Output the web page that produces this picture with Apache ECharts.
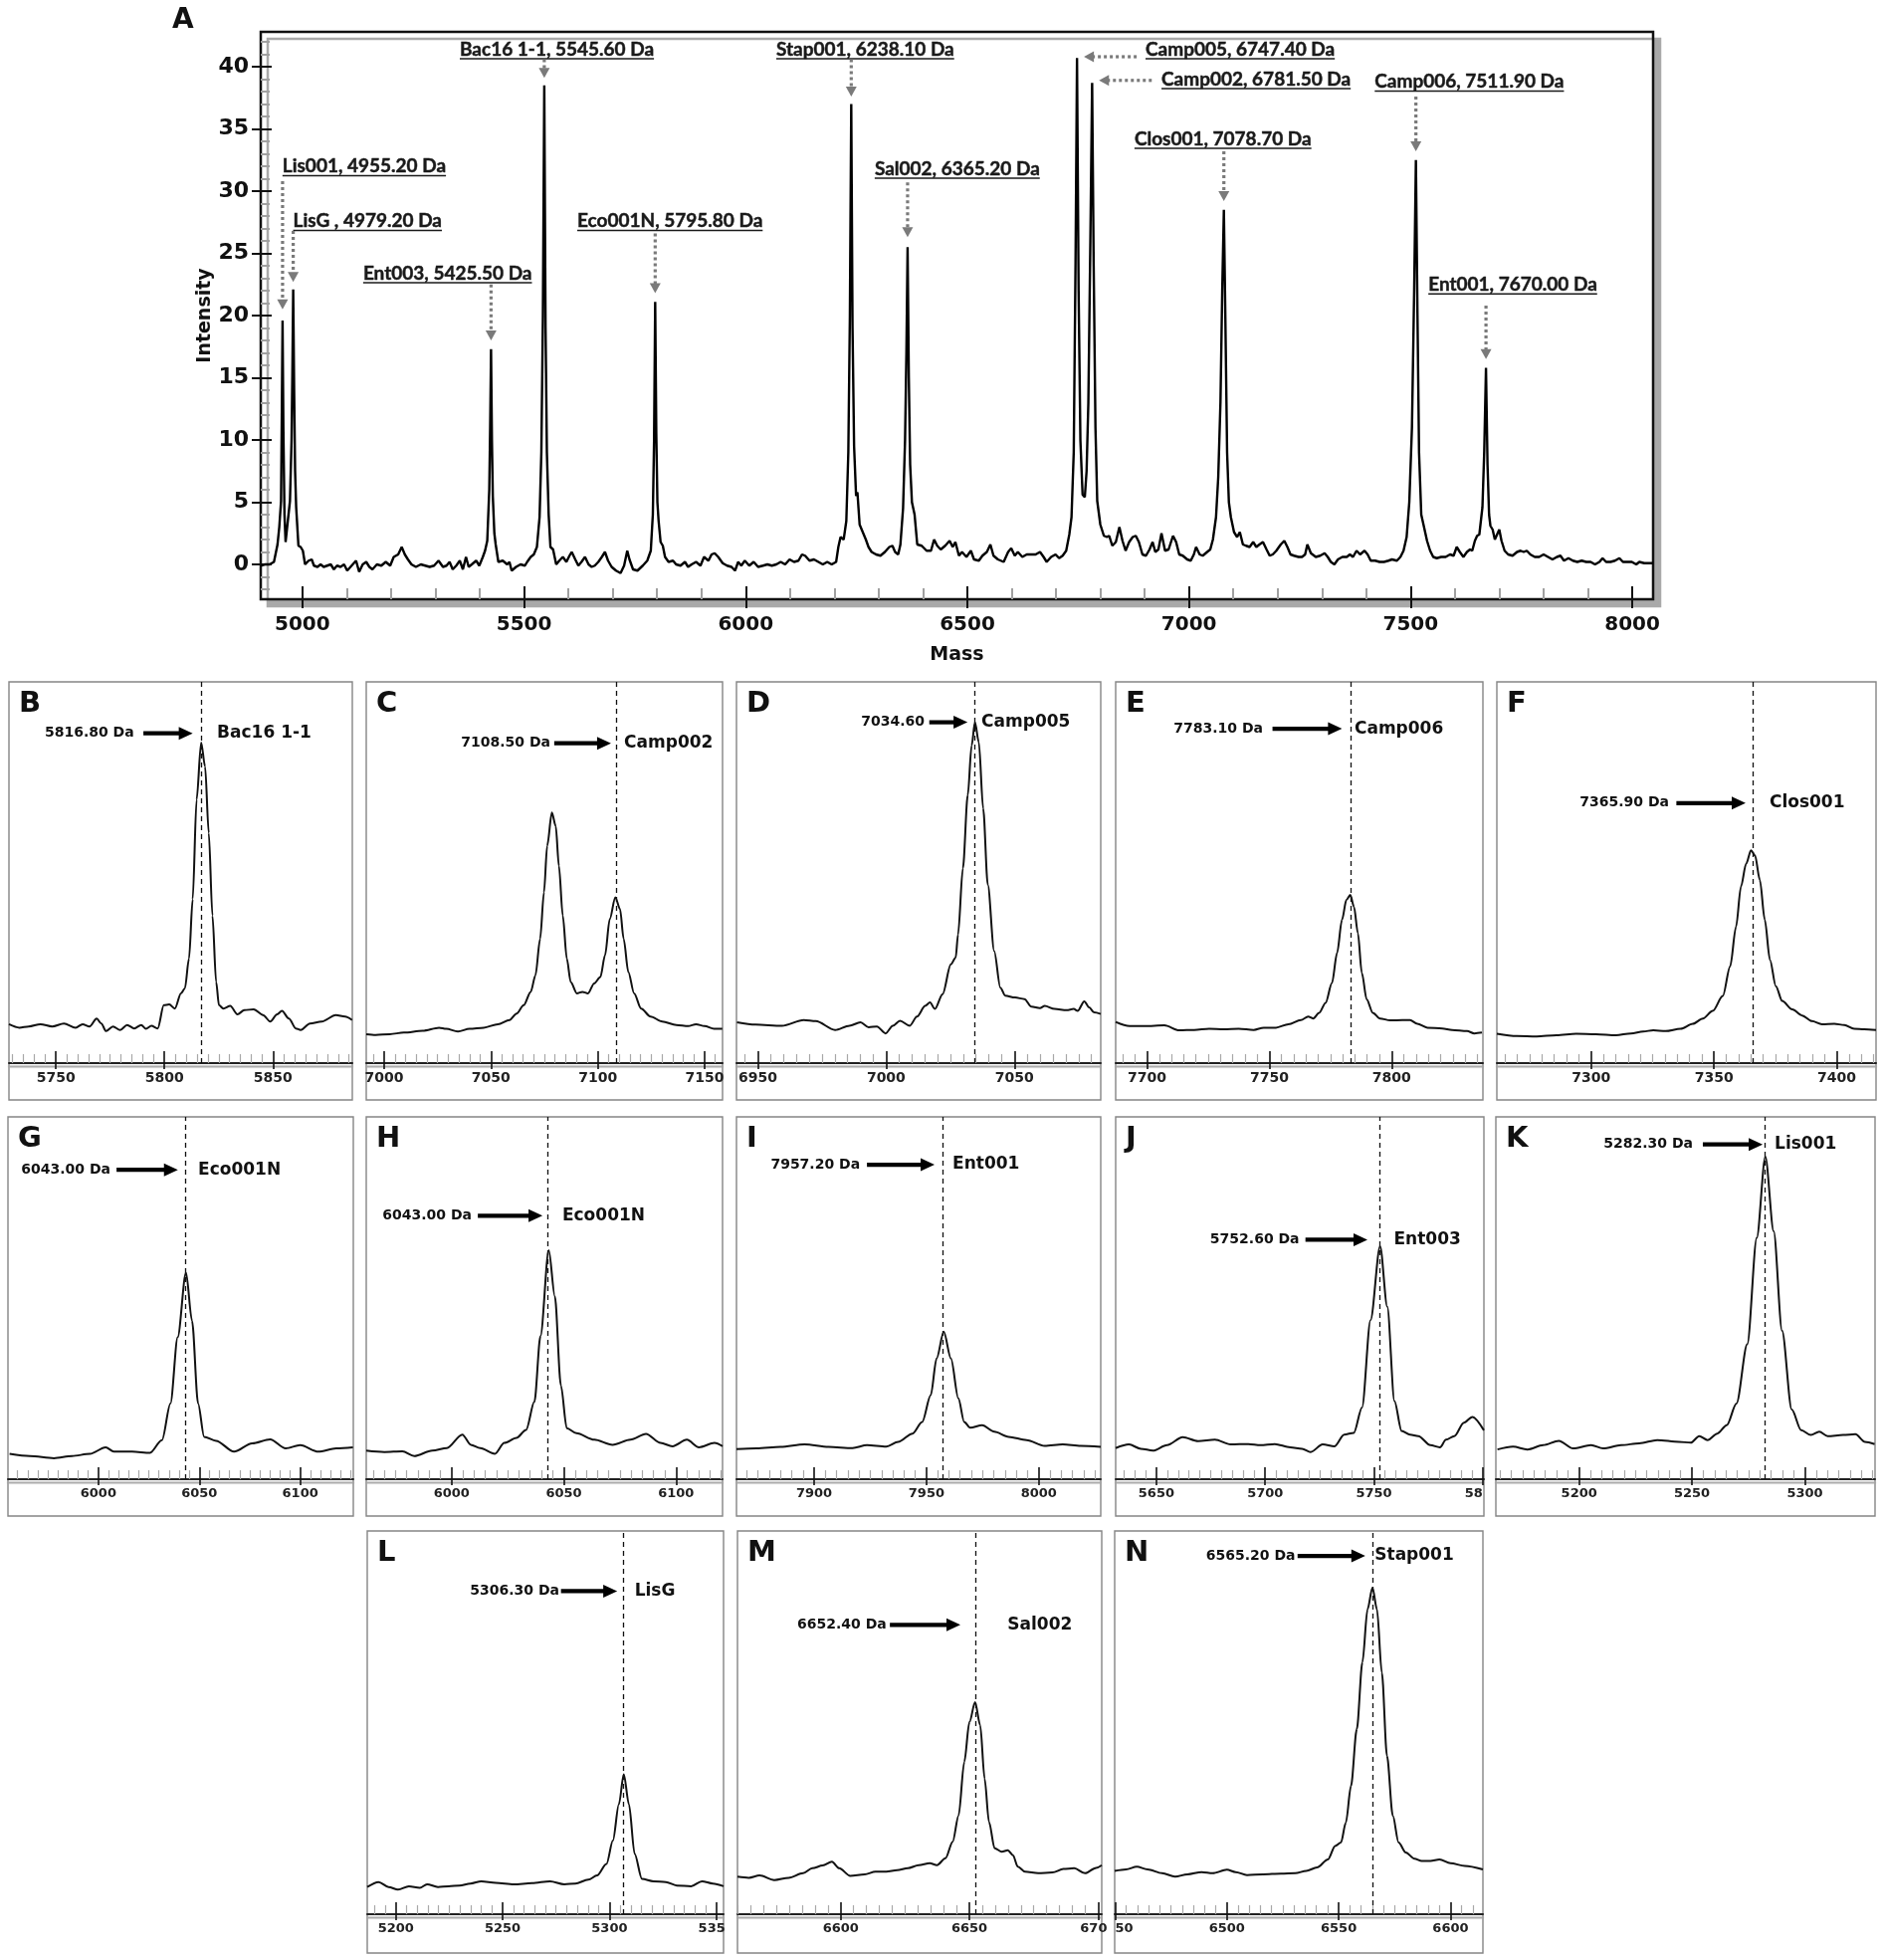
<!DOCTYPE html>
<html><head><meta charset="utf-8">
<script src="https://cdn.jsdelivr.net/npm/echarts@6/dist/echarts.min.js"></script>
<style>html,body{margin:0;padding:0;background:#fff}#c{width:1892px;height:1969px}</style>
</head><body><div id="c"></div><script>
// ---------------- DATA ----------------
// Panel A: MALDI-TOF spectrum (mass in Da, intensity)
const spectrumA = [[4905.7,-0.1],[4915.7,0.0],[4925.8,0.0],[4935.8,0.2],[4943.8,1.6],[4947.8,3.0],[4951.8,5.1],[4953.5,12.0],[4955.2,19.6],[4957.0,11.0],[4959.5,4.0],[4962.0,1.8],[4965.5,1.8],[4971.9,5.1],[4975.5,10.0],[4977.2,15.0],[4979.2,22.1],[4981.3,14.0],[4983.5,7.5],[4985.9,4.6],[4991,1.5],[4996,1.4],[5001,1.1],[5006,0.0],[5014,0.3],[5021,0.4],[5026,-0.1],[5034,-0.2],[5041,0.0],[5048,-0.2],[5056,-0.1],[5064,0.0],[5071,-0.4],[5078,-0.1],[5086,-0.2],[5094,0.0],[5101,-0.5],[5111,-0.1],[5121,0.3],[5128,-0.6],[5136,0.0],[5144,0.2],[5151,-0.2],[5158,-0.4],[5168,0.0],[5178,-0.1],[5188,0.2],[5198,-0.1],[5206,0.6],[5216,0.8],[5224,1.4],[5231,0.8],[5238,0.4],[5246,0.0],[5256,-0.2],[5267,0.0],[5277,-0.1],[5287,-0.2],[5297,-0.1],[5307,0.3],[5317,-0.2],[5325,-0.1],[5332,0.2],[5339,-0.4],[5347,-0.1],[5355,0.3],[5362,-0.4],[5369,0.6],[5375,-0.2],[5382,0.0],[5392,0.3],[5399,-0.1],[5407,0.6],[5412,1.1],[5417,1.9],[5421.5,6.0],[5423.5,11.0],[5425.5,17.3],[5427.5,10.0],[5429.5,5.5],[5433,2.5],[5436,1.6],[5442,0.2],[5452,0.3],[5462,0.0],[5467,0.2],[5472,-0.5],[5482,-0.2],[5492,0.0],[5502,-0.1],[5507,0.2],[5515,0.6],[5522,0.8],[5529,1.4],[5535,3.8],[5539,9.0],[5542.5,20.0],[5545.6,38.5],[5548.5,19.0],[5551.5,9.0],[5555.5,4.0],[5559.5,1.4],[5565.5,1.2],[5572.5,0.0],[5579.5,0.3],[5587.5,0.6],[5595.5,0.2],[5602.5,0.7],[5607.5,1.0],[5615.5,0.4],[5622.5,-0.1],[5629.5,0.2],[5637.5,0.6],[5645.5,0.0],[5652.5,-0.2],[5659.5,-0.1],[5667.5,0.2],[5675.5,0.6],[5682.5,1.0],[5689.5,0.3],[5697.5,-0.2],[5707.5,-0.5],[5717.7,-0.7],[5725.7,-0.1],[5732.8,1.1],[5737.8,0.4],[5745.8,-0.4],[5755.8,-0.5],[5767.8,-0.1],[5777.9,0.3],[5785.9,1.1],[5790.5,4.0],[5793.3,10.0],[5795.8,21.1],[5798.3,10.5],[5800.8,5.0],[5803.5,3.5],[5808,1.8],[5813,1.5],[5818,0.6],[5826,0.2],[5836,0.3],[5843,0.0],[5853,-0.1],[5863,0.2],[5870,-0.2],[5878,0.0],[5888,0.2],[5898,-0.1],[5906,0.6],[5916,0.3],[5923,0.8],[5930,0.9],[5938,0.6],[5948,0.1],[5958,-0.1],[5968,-0.2],[5976,-0.5],[5983,0.2],[5990,-0.1],[5998,0.3],[6008,-0.1],[6018,0.2],[6028,-0.2],[6039,-0.1],[6049,0.0],[6059,-0.1],[6069,0.0],[6079,0.2],[6089,0.0],[6099,0.4],[6109,0.2],[6119,0.3],[6127,0.8],[6134,0.7],[6144,0.3],[6154,0.4],[6164,0.2],[6174,0.0],[6184,0.2],[6194,0.0],[6204,0.2],[6209,1.4],[6214,2.2],[6221,2.0],[6227,3.5],[6231.5,9.0],[6235,20.0],[6238.1,37.0],[6241,19.0],[6244.5,9.5],[6249,5.5],[6252,5.8],[6257,3.2],[6264,2.6],[6271,2.0],[6277,1.4],[6284,1.0],[6294,0.8],[6304,0.7],[6314,1.0],[6324,1.4],[6331,1.5],[6337,1.0],[6344,0.8],[6349,1.6],[6355,4.5],[6359.5,10.0],[6362.5,17.0],[6365.2,25.5],[6368,15.0],[6371,8.0],[6375,5.0],[6381,4.0],[6387,1.6],[6397,1.5],[6408,1.1],[6418,1.1],[6425,2.0],[6432,1.5],[6440,1.2],[6450,1.5],[6460,1.9],[6467,1.4],[6473,1.8],[6481,0.7],[6488,1.0],[6498,0.6],[6508,1.1],[6515,0.4],[6526,0.3],[6534,0.7],[6544,1.0],[6552,1.6],[6559,0.7],[6569,0.4],[6582,0.2],[6592,1.0],[6599,1.3],[6607,0.7],[6614,1.0],[6624,0.6],[6634,0.8],[6644,0.8],[6654,0.8],[6664,1.0],[6672,0.6],[6679,0.2],[6689,0.6],[6699,0.8],[6707,0.5],[6715,0.7],[6723,1.1],[6730,2.4],[6735,3.8],[6740,9.0],[6744,24.0],[6747.4,40.7],[6751,22.0],[6755,10.0],[6760,5.6],[6765,5.4],[6769,7.5],[6773,13.0],[6777.5,26.0],[6781.5,38.7],[6785,24.0],[6789,11.0],[6793,5.1],[6800,3.2],[6808,2.3],[6815,2.2],[6820,2.3],[6827,1.5],[6835,1.8],[6843,3.0],[6850,1.9],[6857,1.1],[6865,1.8],[6873,2.2],[6880,2.3],[6887,1.8],[6895,0.8],[6903,0.7],[6911,1.2],[6918,1.8],[6924,1.0],[6931,1.2],[6938,2.5],[6946,1.1],[6954,1.2],[6964,2.3],[6971,1.8],[6978,0.8],[6986,0.7],[6996,0.4],[7004,0.3],[7011,0.8],[7016,1.4],[7024,0.8],[7031,0.7],[7041,1.0],[7048,1.2],[7054,2.0],[7061,3.8],[7066,7.0],[7071,13.0],[7075,22.0],[7078.7,28.5],[7082,20.0],[7086,9.0],[7090,5.0],[7094.5,3.8],[7101.6,2.6],[7108.6,2.2],[7114.7,2.6],[7121.7,1.6],[7128.7,1.5],[7136.8,1.4],[7144.8,1.8],[7151.9,1.4],[7158.9,1.6],[7166.9,1.8],[7175,1.2],[7182,0.7],[7189,0.8],[7197,1.1],[7207,1.6],[7215,1.9],[7222,1.4],[7229,0.8],[7237,0.7],[7247,0.6],[7255,0.6],[7262,0.8],[7267,1.6],[7275,0.9],[7286,0.6],[7296,0.7],[7306,0.9],[7313,0.6],[7320,0.2],[7328,0.0],[7336,0.4],[7346,0.6],[7356,0.6],[7363,0.8],[7370,0.6],[7378,1.1],[7386,0.8],[7396,1.1],[7403,0.8],[7410,0.3],[7420,0.3],[7430,0.2],[7440,0.2],[7450,0.3],[7458,0.4],[7469,0.3],[7477,0.6],[7484,1.1],[7491,2.2],[7497,5.0],[7503,11.0],[7508,22.0],[7511.9,32.5],[7515.5,20.0],[7519,9.0],[7524,4.0],[7529,3.2],[7537,1.9],[7544,1.1],[7551,0.6],[7559,0.5],[7569,0.6],[7579,0.6],[7589,0.8],[7597,0.7],[7604,1.4],[7611,1.0],[7619,0.6],[7627,1.0],[7634,1.2],[7639,1.1],[7645,1.9],[7650,2.3],[7655,2.4],[7662,4.6],[7666,9.0],[7670,15.8],[7673.5,8.0],[7677,4.0],[7680,3.1],[7685,2.8],[7690,2.0],[7695,2.4],[7700,2.8],[7705,1.9],[7712,1.1],[7720,0.8],[7730,0.7],[7740,1.0],[7748,1.1],[7755,1.0],[7762,1.1],[7770,0.8],[7780,0.6],[7790,0.6],[7800,0.8],[7810,0.6],[7820,0.4],[7830,0.6],[7838,0.7],[7846,0.3],[7856,0.5],[7866,0.3],[7876,0.2],[7886,0.3],[7896,0.2],[7906,0.2],[7916,0.0],[7926,0.2],[7933,0.5],[7941,0.2],[7951,0.2],[7961,0.3],[7971,0.5],[7979,0.2],[7989,0.2],[7999,0.2],[8009,0.0],[8016,0.2],[8027,0.1],[8037,0.1],[8047,0.1]];

const peakLabelsA = ['Lis001, 4955.20 Da','LisG , 4979.20 Da','Ent003, 5425.50 Da','Bac16 1-1, 5545.60 Da','Eco001N, 5795.80 Da','Stap001, 6238.10 Da','Sal002, 6365.20 Da','Camp005, 6747.40 Da','Camp002, 6781.50 Da','Clos001, 7078.70 Da','Camp006, 7511.90 Da','Ent001, 7670.00 Da'];
const massTicksA = [5000,5500,6000,6500,7000,7500,8000];
const intensityTicksA = [0,5,10,15,20,25,30,35,40];

// Panels B–N: zoomed spectra (mass in Da, relative intensity)
const panelLetters = ['B','C','D','E','F','G','H','I','J','K','L','M','N'];
const panelMassLabels = ['5816.80 Da','7108.50 Da','7034.60','7783.10 Da','7365.90 Da','6043.00 Da','6043.00 Da','7957.20 Da','5752.60 Da','5282.30 Da','5306.30 Da','6652.40 Da','6565.20 Da'];
const panelNames = ['Bac16 1-1','Camp002','Camp005','Camp006','Clos001','Eco001N','Eco001N','Ent001','Ent003','Lis001','LisG','Sal002','Stap001'];
const panelMarkers = [5816.8,7108.5,7034.6,7783.1,7365.9,6043.0,6043.0,7957.2,5752.6,5282.3,5306.3,6652.4,6565.2];
const panelRanges = [[5728.4,5886.5],[6991.6,7158.4],[6941.7,7083.6],[7687.2,7837.3],[7261.6,7416],[5955.2,6126.3],[5962,6120.7],[7865.4,8027.6],[5631.3,5800.5],[5163.1,5331.1],[5186.6,5353.4],[6559.9,6701.4],[6449.8,6614.5]];
const panelTicks = [[5750,5800,5850],[7000,7050,7100,7150],[6950,7000,7050],[7700,7750,7800],[7300,7350,7400],[6000,6050,6100],[6000,6050,6100],[7900,7950,8000],[5650,5700,5750,5800],[5200,5250,5300],[5200,5250,5300,5350],[6600,6650,6700],[6450,6500,6550,6600]];

const traceB = [[5728.4,10.2],[5733.2,9.3],[5737.5,9.6],[5742.9,10.2],[5748.3,9.6],[5753.7,10.4],[5759.1,9.3],[5762.3,10.2],[5765.5,9.6],[5768.8,11.7],[5770.9,10.4],[5773.1,8.4],[5776.3,9.6],[5779.6,8.7],[5782.8,10.0],[5786.1,9.1],[5789.3,10.0],[5791.5,9.0],[5794.0,9.8],[5796.9,9.1],[5799.7,15.2],[5802.2,15.4],[5804.8,14.3],[5807.6,18.3],[5809.4,19.6],[5811.3,27.4],[5813.0,43.0],[5814.8,69.1],[5816.9,84.1],[5818.7,77.8],[5820.4,60.4],[5822.1,38.7],[5823.8,21.3],[5825.1,15.2],[5827.1,14.3],[5830.3,15.0],[5833.6,12.8],[5836.8,13.9],[5841.1,14.1],[5845.4,12.6],[5848.7,10.9],[5851.9,12.8],[5854.1,13.7],[5857.3,11.7],[5860.5,9.1],[5862.7,8.7],[5867.0,10.4],[5872.4,10.9],[5878.9,12.6],[5883.2,12.2],[5886.4,11.3]];
const traceC = [[6991.6,7.6],[6996.0,7.4],[7002.6,7.6],[7009.2,8.0],[7018.0,8.5],[7025.7,9.3],[7029.0,9.0],[7034.5,8.3],[7040.0,9.0],[7046.6,9.3],[7053.2,10.2],[7058.7,11.3],[7062.0,13.0],[7065.3,15.2],[7068.6,18.7],[7070.8,23.0],[7073.0,32.6],[7074.8,44.8],[7076.3,57.0],[7078.5,65.7],[7080.3,62.2],[7081.8,51.7],[7083.6,38.7],[7085.5,27.4],[7087.3,21.3],[7090.2,18.3],[7092.8,18.7],[7095.4,18.3],[7098.3,20.9],[7101.2,22.6],[7103.4,28.3],[7105.6,37.8],[7108.2,43.5],[7110.4,40.4],[7112.1,32.6],[7114.3,23.9],[7117.0,18.3],[7120.3,14.3],[7124.7,12.2],[7130.2,10.9],[7136.8,10.0],[7142.3,9.7],[7146.0,10.2],[7150.0,9.7],[7154.4,9.0],[7158.3,9.0]];
const traceD = [[6941.9,10.7],[6949.1,10.1],[6959.4,9.8],[6967.9,11.3],[6972.6,11.0],[6980.1,8.7],[6985.7,9.8],[6990.0,10.7],[6993.2,9.4],[6996.4,9.6],[6999.8,7.8],[7002.6,9.8],[7005.4,11.1],[7009.2,9.8],[7012.0,12.2],[7015.2,15.0],[7017.1,15.9],[7019.0,14.2],[7022.0,18.1],[7025.2,25.9],[7027.1,27.7],[7028.0,33.7],[7029.9,51.1],[7031.8,70.3],[7033.3,83.3],[7034.6,89.4],[7036.1,84.2],[7037.8,66.8],[7039.6,46.8],[7042.1,29.4],[7044.5,19.8],[7046.4,17.7],[7050.2,17.2],[7053.9,16.8],[7056.6,14.8],[7059.9,14.4],[7061.8,15.0],[7065.6,14.2],[7070.3,13.9],[7073.1,14.2],[7074.6,13.7],[7077.2,16.2],[7079.1,14.6],[7081.0,13.3],[7083.6,12.9]];
const traceE = [[7687.2,10.8],[7692.9,9.7],[7699.0,9.7],[7707.1,9.9],[7713.2,8.6],[7719.3,8.7],[7725.4,9.0],[7731.4,8.9],[7737.5,9.0],[7743.6,8.7],[7747.7,9.3],[7752.7,9.3],[7757.8,10.2],[7762.9,11.3],[7765.9,12.2],[7767.9,11.7],[7770.4,13.2],[7773.0,15.8],[7775.6,21.0],[7777.7,28.9],[7779.7,37.6],[7781.5,42.8],[7783.1,44.1],[7784.6,41.0],[7786.2,34.1],[7787.8,23.7],[7789.8,16.7],[7792.3,13.2],[7795.3,11.7],[7799.4,11.2],[7804.4,11.3],[7807.5,11.3],[7810.5,10.3],[7814.6,9.3],[7820.7,9.1],[7824.7,8.7],[7830.8,8.4],[7833.8,7.8],[7836.9,8.0]];
const traceF = [[7261.6,7.7],[7269.7,7.1],[7277.8,7.0],[7285.9,7.3],[7293.9,7.7],[7302.0,7.6],[7310.1,7.3],[7316.2,7.8],[7321.2,8.3],[7325.3,8.6],[7330.3,8.4],[7336.4,9.0],[7341.4,10.3],[7345.5,11.7],[7349.5,13.7],[7353.6,17.6],[7356.6,25.4],[7359.0,35.8],[7361.0,46.3],[7363.1,52.3],[7365.1,55.8],[7366.7,54.5],[7368.7,48.0],[7370.7,37.6],[7372.8,27.1],[7375.2,20.2],[7377.8,16.3],[7381.9,14.1],[7385.9,12.5],[7389.9,11.0],[7394.0,10.2],[7399.0,10.3],[7403.1,10.0],[7407.1,9.0],[7411.2,8.9],[7416.0,8.7]];
const traceG = [[5956.0,7.0],[5966.1,6.4],[5978.0,5.8],[5986.9,6.4],[5995.8,7.0],[6003.6,8.8],[6007.7,7.6],[6016.7,7.6],[6025.6,7.3],[6031.5,10.8],[6035.7,20.9],[6039.3,39.2],[6043.4,57.0],[6046.4,43.7],[6049.4,20.9],[6052.4,11.7],[6058.3,10.6],[6067.2,7.6],[6076.2,9.9],[6085.1,11.0],[6092.8,8.5],[6100.0,9.4],[6108.9,7.6],[6117.8,8.5],[6126.1,8.8]];
const traceH = [[5962.0,7.9],[5970.1,7.5],[5978.1,7.7],[5983.4,6.4],[5991.4,7.9],[5997.9,8.6],[6004.8,12.3],[6008.6,9.5],[6012.8,8.6],[6019.3,7.0],[6023.5,10.0],[6028.9,11.4],[6033.2,13.6],[6036.9,21.4],[6039.6,39.5],[6043.3,63.2],[6046.0,50.5],[6048.7,25.9],[6051.3,14.1],[6055.6,12.7],[6063.6,10.9],[6071.7,9.5],[6079.7,10.9],[6086.6,12.5],[6093.1,10.0],[6098.4,9.1],[6104.8,10.9],[6110.2,8.8],[6117.1,10.0],[6120.7,9.1]];
const traceI = [[7865.4,8.3],[7874.3,8.5],[7885.0,8.9],[7895.7,9.6],[7906.4,8.9],[7917.1,8.6],[7923.5,9.4],[7932.1,9.0],[7937.4,10.3],[7943.8,12.6],[7948.1,15.8],[7951.9,23.2],[7954.5,33.3],[7957.7,40.7],[7960.9,33.3],[7964.2,22.3],[7966.8,15.8],[7969.5,14.2],[7974.8,14.9],[7980.2,13.1],[7986.6,11.7],[7994.6,10.8],[8002.6,9.2],[8010.7,9.6],[8018.7,9.2],[8027.6,8.9]];
const traceJ = [[5631.3,8.6],[5637.4,9.6],[5642.9,8.4],[5648.4,7.9],[5654.9,9.4],[5662.1,11.6],[5669.2,10.5],[5676.9,10.9],[5684.1,9.6],[5692.3,9.7],[5697.8,9.4],[5704.4,9.7],[5711.5,8.8],[5717.0,8.4],[5720.9,7.5],[5726.4,9.6],[5731.9,9.1],[5736.3,12.3],[5740.7,12.8],[5744.5,19.8],[5748.4,43.9],[5752.8,64.3],[5756.1,47.6],[5759.4,21.6],[5762.7,13.3],[5766.6,12.3],[5770.4,11.9],[5775.9,9.4],[5780.3,8.8],[5783.1,10.9],[5786.9,11.9],[5791.3,15.6],[5795.2,17.2],[5800.5,13.5]];
const traceK = [[5163.8,8.2],[5170.7,9.0],[5177.1,8.2],[5184.0,9.4],[5191.0,10.6],[5197.3,8.5],[5205.3,9.4],[5210.6,8.5],[5218.6,9.4],[5226.6,9.9],[5234.6,10.8],[5244.2,10.3],[5249.5,10.1],[5253.2,11.9],[5256.9,10.8],[5261.2,12.6],[5265.4,14.9],[5269.7,20.9],[5274.5,37.3],[5278.7,66.6],[5282.5,89.0],[5286.2,68.4],[5289.9,41.0],[5294.2,19.2],[5298.4,13.5],[5302.7,12.2],[5306.4,13.1],[5310.1,11.9],[5317.0,12.2],[5322.4,12.4],[5326.6,10.3],[5330.9,9.7]];
const traceL = [[5186.6,7.1],[5191.9,8.4],[5196.6,7.1],[5201.0,6.4],[5206.1,7.3],[5211.2,6.9],[5214.6,7.8],[5219.7,7.1],[5224.7,7.3],[5229.8,7.5],[5234.9,8.0],[5240.0,8.6],[5246.8,8.2],[5255.2,7.8],[5263.7,8.1],[5272.2,8.6],[5278.9,7.8],[5284.0,8.0],[5290.1,9.0],[5294.2,10.1],[5298.6,13.1],[5301.6,19.2],[5304.4,28.7],[5306.7,36.5],[5309.1,28.7],[5311.8,15.7],[5315.2,9.2],[5320.6,8.6],[5326.4,8.4],[5331.5,7.5],[5338.2,7.3],[5343.3,8.6],[5348.4,8.0],[5353.4,7.3]];
const traceM = [[6559.9,9.8],[6564.3,9.5],[6568.5,10.1],[6574.2,8.9],[6579.8,9.5],[6585.4,10.7],[6589.0,12.0],[6593.0,12.7],[6596.6,13.7],[6599.4,12.0],[6603.7,10.0],[6609.3,10.4],[6613.5,11.1],[6617.7,11.1],[6621.9,11.5],[6626.1,12.0],[6630.3,12.8],[6634.6,13.3],[6637.4,12.8],[6640.7,14.6],[6643.5,18.9],[6645.8,25.8],[6648.0,39.7],[6650.0,50.1],[6652.2,55.3],[6654.2,49.3],[6655.9,35.4],[6657.6,24.1],[6659.8,17.2],[6662.6,16.3],[6664.9,16.7],[6666.9,15.4],[6668.8,12.4],[6671.6,11.1],[6676.7,10.7],[6682.3,10.9],[6686.5,11.8],[6690.7,12.0],[6694.9,10.7],[6699.2,12.1],[6701.4,12.8]];
const traceN = [[6449.8,11.3],[6454.9,11.7],[6459.7,12.4],[6464.5,11.7],[6471.0,10.7],[6476.8,9.8],[6482.3,10.4],[6488.7,11.0],[6493.6,10.7],[6500.0,11.6],[6503.9,11.0],[6509.0,10.2],[6516.1,10.4],[6524.2,10.6],[6530.6,10.7],[6535.5,11.3],[6540.3,12.2],[6545.2,14.3],[6548.4,17.8],[6551.0,18.7],[6553.2,23.9],[6555.5,33.5],[6558.1,48.3],[6560.6,65.7],[6562.9,79.6],[6565.1,85.2],[6567.1,79.6],[6569.3,63.0],[6571.6,41.3],[6574.2,25.7],[6576.8,18.7],[6580.0,16.1],[6583.9,14.5],[6587.1,13.9],[6591.0,13.9],[6595.1,14.3],[6600.0,13.3],[6606.4,12.6],[6614.5,11.7]];
const panelTraces = [traceB,traceC,traceD,traceE,traceF,traceG,traceH,traceI,traceJ,traceK,traceL,traceM,traceN];

// ---------------- LAYOUT (positions / sizes) ----------------
// Panel A label placement in data coords: [textLeft, textY, arrowX1, arrowY1, arrowX2, arrowY2]
const annLayoutA = [[4955,32.0,4955.2,30.8,4955.2,20.5],[4979,27.6,4979.2,26.8,4979.2,22.7],[5137,23.4,5425.5,22.5,5425.5,18.0],[5355,41.4,5545.6,40.6,5545.6,39.1],[5620,27.6,5795.8,26.6,5795.8,21.8],[6069,41.4,6238.1,40.6,6238.1,37.6],[6291,31.8,6365.2,30.7,6365.2,26.3],[6902,41.4,6882,40.8,6763,40.8],[6938,39.0,6916,38.9,6797,38.9],[6877,34.2,7078.7,33.2,7078.7,29.2],[7419,38.8,7511.9,37.6,7511.9,33.2],[7540,22.5,7670,20.8,7670,16.5]];
// Panels: [arrowX1, arrowX2, y, massTextRight, nameLeft] (data coords)
const annLayoutP = [[5790.3,5813.0,86.5,5786.0,5824.2],[7079.6,7106.2,83.9,7077.8,7112.3],[7016.8,7031.7,89.4,7015.0,7037.1],[7751.3,7779.7,87.7,7747.4,7784.8],[7334.7,7362.9,68.2,7331.7,7372.6],[6009.0,6039.4,85.4,6006.0,6049.4],[6011.7,6040.5,72.7,6009.0,6049.3],[7923.5,7953.6,86.8,7920.4,7961.6],[5718.5,5747.0,66.1,5715.7,5759.1],[5254.8,5281.3,92.4,5250.4,5286.6],[5277.3,5303.6,84.3,5276.5,5311.8],[6619.1,6646.5,75.5,6617.8,6664.8],[6531.6,6561.9,93.5,6530.6,6566.1]];
const panelBoxes = [[9,685,345,420],[368,685,358,420],[740,685,366,420],[1121,685,369,420],[1504,685,381,420],[8,1122,347,401],[368,1122,358,401],[740,1122,366,401],[1121,1122,370,401],[1503,1122,381,401],[369,1538,358,424],[741,1538,366,424],[1120,1538,370,424]];
const panelRow = [0,0,0,0,0,1,1,1,1,1,2,2,2];
const rowAxisOffset = [383, 364, 385];   // px from panel top to the mass axis line
const labelClip = {8:{5800:'58{h|00}'},10:{5350:'535{h|0}'},11:{6700:'670{h|0}'},12:{6450:'{h|64}50'}};

const WIDE = "'DejaVu Sans', Verdana, sans-serif";
const HUM = "Lato, 'Open Sans', sans-serif";

const measureCtx = document.createElement('canvas').getContext('2d');
function textWidth(t, font){ measureCtx.font = font; return measureCtx.measureText(t).width; }

const option = {animation:false, backgroundColor:'#fff', title:[], grid:[], xAxis:[], yAxis:[], series:[]};

// ---- Panel A ----
option.title.push({text:'A', left:168, top:2, textStyle:{fontFamily:WIDE, fontWeight:'bold', fontSize:28, color:'#111'}});
option.grid.push({left:262, top:32, width:1399, height:570, show:true, backgroundColor:'#fff', borderColor:'#111', borderWidth:2.5, shadowColor:'#a9a9a9', shadowOffsetX:7, shadowOffsetY:7, shadowBlur:0});
const minorMassA = []; for (let v = 4000; v <= 8100; v += 100) if (v >= 4906 && v <= 8047 && v % 500) minorMassA.push(v);
const minorIntA = []; for (let v = -2; v <= 42; v++) if (v % 5) minorIntA.push(v);
const xBaseA = {type:'value', gridIndex:0, min:4906, max:8047, position:'bottom', splitLine:{show:false}, axisLine:{show:false, onZero:false}};
option.xAxis.push(Object.assign({}, xBaseA, {
  axisTick:{show:true, customValues:massTicksA, inside:false, length:9, lineStyle:{color:'#111', width:2}},
  axisLabel:{customValues:massTicksA, margin:16, formatter:(v)=>String(v), fontFamily:WIDE, fontWeight:'bold', fontSize:20, color:'#111'},
  name:'Mass', nameLocation:'middle', nameGap:47, nameMoveOverlap:false, nameTextStyle:{fontFamily:WIDE, fontWeight:'bold', fontSize:19, color:'#111'}}));
option.xAxis.push(Object.assign({}, xBaseA, {axisTick:{show:true, customValues:massTicksA, inside:true, length:13, lineStyle:{color:'#111', width:2}}, axisLabel:{show:false}}));
option.xAxis.push(Object.assign({}, xBaseA, {axisTick:{show:true, customValues:minorMassA, inside:true, length:11, lineStyle:{color:'#a0a0a0', width:2}}, axisLabel:{show:false}}));
const yBaseA = {type:'value', gridIndex:0, min:-2.8, max:42.8, position:'left', splitLine:{show:false}, axisLine:{show:false, onZero:false}};
option.yAxis.push(Object.assign({}, yBaseA, {
  axisTick:{show:true, customValues:intensityTicksA, inside:false, length:9, lineStyle:{color:'#111', width:2}},
  axisLabel:{customValues:intensityTicksA, margin:12, formatter:(v)=>String(v), fontFamily:WIDE, fontWeight:'bold', fontSize:22, color:'#111'},
  name:'Intensity', nameLocation:'middle', nameGap:46, nameMoveOverlap:false, nameRotate:90, nameTextStyle:{fontFamily:WIDE, fontWeight:'bold', fontSize:19, color:'#111'}}));
option.yAxis.push(Object.assign({}, yBaseA, {axisTick:{show:true, customValues:intensityTicksA, inside:true, length:11, lineStyle:{color:'#111', width:2}}, axisLabel:{show:false}}));
option.yAxis.push(Object.assign({}, yBaseA, {axisTick:{show:true, customValues:minorIntA, inside:true, length:9, lineStyle:{color:'#a0a0a0', width:2}}, axisLabel:{show:false}}));

option.series.push({type:'line', xAxisIndex:0, yAxisIndex:0, data:spectrumA, showSymbol:false, symbol:'none', smooth:false, lineStyle:{color:'#000', width:2.4}, z:3});

const fontA = `bold 19px ${HUM}`;
option.series.push({type:'custom', xAxisIndex:0, yAxisIndex:0, z:5, silent:true,
  data: annLayoutA.map((r,i)=>[r[0], r[1], i]),
  renderItem:(params, api)=>{
    const i = api.value(2); const r = annLayoutA[i]; const t = peakLabelsA[i];
    const p = api.coord([r[0], r[1]]); const w = textWidth(t, fontA);
    const a1 = api.coord([r[2], r[3]]), a2 = api.coord([r[4], r[5]]);
    const ch = [
      {type:'text', style:{text:t, x:p[0], y:p[1], font:fontA, fill:'#1a1a1a', stroke:'#1a1a1a', lineWidth:0.45, align:'left', verticalAlign:'middle', textAlign:'left', textVerticalAlign:'middle'}},
      {type:'line', shape:{x1:p[0], y1:p[1]+9.5, x2:p[0]+w, y2:p[1]+9.5}, style:{stroke:'#1a1a1a', lineWidth:1.7}}
    ];
    const col = '#7a7a7a';
    if (Math.abs(a1[0]-a2[0]) < 1) {
      const hx = a2[0], hy = a2[1];
      ch.push({type:'line', shape:{x1:a1[0], y1:a1[1], x2:hx, y2:hy-8}, style:{stroke:col, lineWidth:3.2, lineDash:[3,3]}});
      ch.push({type:'polygon', shape:{points:[[hx-5.5,hy-10],[hx+5.5,hy-10],[hx,hy]]}, style:{fill:col}});
    } else {
      const hx = a2[0], hy = a2[1];
      ch.push({type:'line', shape:{x1:a1[0], y1:a1[1], x2:hx+8, y2:hy}, style:{stroke:col, lineWidth:3.2, lineDash:[3,3]}});
      ch.push({type:'polygon', shape:{points:[[hx+10,hy-5.5],[hx+10,hy+5.5],[hx,hy]]}, style:{fill:col}});
    }
    return {type:'group', children:ch};
  }});

// ---- Panels B–N ----
const massFont = `bold 14px ${WIDE}`, nameFont = `bold 17px ${WIDE}`;
panelLetters.forEach((letter, k)=>{
  const box = panelBoxes[k]; const row = panelRow[k];
  const [xmin, xmax] = panelRanges[k];
  // frame grid (panel border)
  const gF = option.grid.length;
  option.grid.push({left:box[0], top:box[1], width:box[2], height:box[3], show:true, backgroundColor:'#fff', borderColor:'#858585', borderWidth:1.4});
  option.xAxis.push({type:'value', gridIndex:gF, min:0, max:1, show:false});
  option.yAxis.push({type:'value', gridIndex:gF, min:0, max:1, show:false});
  // data grid (down to the axis line)
  const g = option.grid.length;
  option.grid.push({left:box[0], top:box[1], width:box[2], height:rowAxisOffset[row], show:false});
  option.title.push({text:letter, left:box[0]+5, top:box[1]+3, textStyle:{fontFamily:WIDE, fontWeight:'bold', fontSize:29, color:'#111'}});
  const yIdx = option.yAxis.length;
  option.yAxis.push({type:'value', gridIndex:g, min:0, max:100, show:false, splitLine:{show:false}});
  const xIdx = option.xAxis.length;
  const minor = []; for (let v = Math.ceil(xmin/5)*5; v <= xmax; v += 5) if (v % 50) minor.push(v);
  const clip = labelClip[k] || {};
  const base = {type:'value', gridIndex:g, min:xmin, max:xmax, position:'bottom', splitLine:{show:false}};
  const lblFont = {fontFamily:WIDE, fontWeight:'bold', fontSize: row === 0 ? 14 : 13, color:'#222'};
  option.xAxis.push(Object.assign({}, base, {
    axisLine:{show:true, onZero:false, lineStyle:{color:'#222', width:2, shadowColor:'#a5a5a5', shadowOffsetY:3.5, shadowBlur:1}},
    axisTick:{show:true, customValues:panelTicks[k], inside:false, length:6, lineStyle:{color:'#111', width:1.6}},
    axisLabel:Object.assign({customValues:panelTicks[k], margin:8, formatter:(v)=>clip[v] || String(v), rich:{h:Object.assign({}, lblFont, {color:'rgba(0,0,0,0)'})}}, lblFont)}));
  option.xAxis.push(Object.assign({}, base, {axisLine:{show:false, onZero:false}, axisTick:{show:true, customValues:panelTicks[k], inside:true, length:12, lineStyle:{color:'#111', width:1.6}}, axisLabel:{show:false}}));
  option.xAxis.push(Object.assign({}, base, {axisLine:{show:false, onZero:false}, axisTick:{show:true, customValues:minor, inside:true, length:9, lineStyle:{color:'#a8a8a8', width:1.2}}, axisLabel:{show:false}}));

  option.series.push({type:'line', xAxisIndex:xIdx, yAxisIndex:yIdx, data:panelTraces[k], showSymbol:false, symbol:'none', smooth:0.3, smoothMonotone:'x', lineStyle:{color:'#111', width:2}, z:3,
    markLine:{silent:true, symbol:['none','none'], label:{show:false}, lineStyle:{type:[5,4], color:'#111', width:1.3},
      data:[[{coord:[panelMarkers[k], 0]}, {coord:[panelMarkers[k], 100]}]]}});

  option.series.push({type:'custom', xAxisIndex:xIdx, yAxisIndex:yIdx, z:5, silent:true,
    data:[annLayoutP[k]],
    renderItem:(params, api)=>{
      const y = api.value(2);
      const a1 = api.coord([api.value(0), y]), a2 = api.coord([api.value(1), y]);
      const te = api.coord([api.value(3), y]), ns = api.coord([api.value(4), y]);
      const head = 14, hw = 6.5, sh = 4.2;
      return {type:'group', children:[
        {type:'text', style:{text:panelMassLabels[k], x:te[0], y:te[1], font:massFont, fill:'#111', align:'right', verticalAlign:'middle', textAlign:'right', textVerticalAlign:'middle'}},
        {type:'rect', shape:{x:a1[0], y:a1[1]-sh/2, width:Math.max(0, a2[0]-a1[0]-head+1), height:sh}, style:{fill:'#000'}},
        {type:'polygon', shape:{points:[[a2[0]-head, a1[1]-hw],[a2[0], a1[1]],[a2[0]-head, a1[1]+hw]]}, style:{fill:'#000'}},
        {type:'text', style:{text:panelNames[k], x:ns[0], y:ns[1], font:nameFont, fill:'#111', align:'left', verticalAlign:'middle', textAlign:'left', textVerticalAlign:'middle'}}
      ]};
    }});
});

const chart = echarts.init(document.getElementById('c'), null, {renderer:'canvas', width:1892, height:1969});
chart.setOption(option);
</script></body></html>
